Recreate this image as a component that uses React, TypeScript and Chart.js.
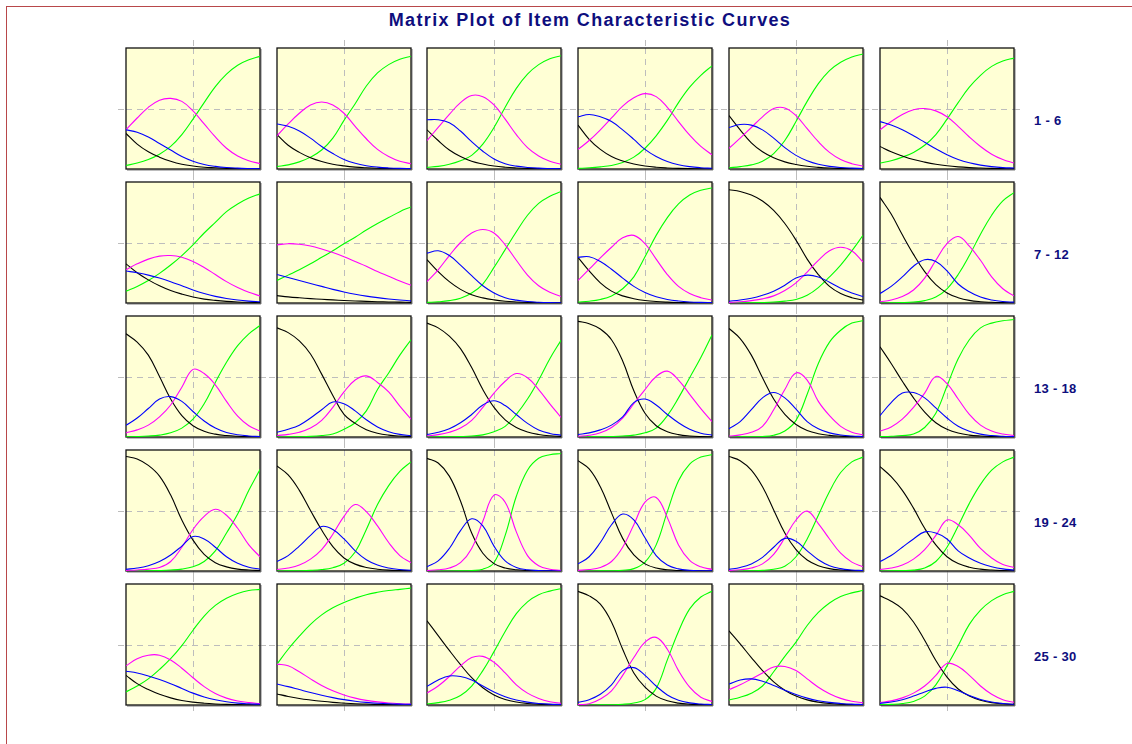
import { useEffect, useRef } from "react";
import { Chart, registerables } from "chart.js";

Chart.register(...registerables);

const TITLE = "Matrix Plot of Item Characteristic Curves";
const ROW_LABELS = ["1 - 6", "7 - 12", "13 - 18", "19 - 24", "25 - 30"];
const THETA = [-3, -2.5, -2, -1.5, -1, -0.5, 0, 0.5, 1, 1.5, 2, 2.5, 3];

// Category 0 (black)
const BLACK_CURVES: number[][] = [
  [0.30, 0.21, 0.145, 0.10, 0.065, 0.04, 0.025, 0.015, 0.01, 0.005, 0.003, 0.002, 0.001],
  [0.29, 0.20, 0.14, 0.095, 0.063, 0.04, 0.026, 0.016, 0.01, 0.006, 0.004, 0.002, 0.001],
  [0.33, 0.24, 0.16, 0.105, 0.065, 0.042, 0.025, 0.015, 0.009, 0.005, 0.003, 0.002, 0.001],
  [0.37, 0.25, 0.165, 0.105, 0.068, 0.042, 0.025, 0.015, 0.009, 0.005, 0.003, 0.002, 0.001],
  [0.45, 0.33, 0.22, 0.145, 0.095, 0.06, 0.038, 0.023, 0.014, 0.008, 0.005, 0.003, 0.002],
  [0.19, 0.145, 0.11, 0.08, 0.058, 0.04, 0.027, 0.018, 0.012, 0.008, 0.005, 0.003, 0.002],
  [0.33, 0.255, 0.195, 0.145, 0.105, 0.075, 0.05, 0.033, 0.022, 0.014, 0.009, 0.006, 0.004],
  [0.062, 0.052, 0.044, 0.037, 0.031, 0.026, 0.021, 0.017, 0.014, 0.011, 0.009, 0.007, 0.005],
  [0.365, 0.265, 0.18, 0.115, 0.07, 0.043, 0.026, 0.015, 0.009, 0.005, 0.003, 0.002, 0.001],
  [0.385, 0.27, 0.17, 0.10, 0.06, 0.036, 0.021, 0.012, 0.007, 0.004, 0.002, 0.001, 0.001],
  [0.955, 0.94, 0.91, 0.86, 0.78, 0.67, 0.53, 0.37, 0.24, 0.14, 0.08, 0.045, 0.025],
  [0.89, 0.75, 0.575, 0.41, 0.265, 0.155, 0.085, 0.045, 0.022, 0.011, 0.006, 0.003, 0.001],
  [0.87, 0.80, 0.69, 0.51, 0.32, 0.18, 0.095, 0.048, 0.024, 0.012, 0.006, 0.003, 0.001],
  [0.92, 0.88, 0.81, 0.70, 0.53, 0.35, 0.19, 0.115, 0.062, 0.032, 0.016, 0.008, 0.004],
  [0.96, 0.92, 0.85, 0.745, 0.585, 0.40, 0.25, 0.145, 0.08, 0.042, 0.021, 0.01, 0.005],
  [0.975, 0.955, 0.91, 0.82, 0.64, 0.39, 0.2, 0.095, 0.045, 0.02, 0.009, 0.004, 0.002],
  [0.915, 0.83, 0.69, 0.50, 0.32, 0.19, 0.105, 0.055, 0.028, 0.014, 0.007, 0.003, 0.002],
  [0.76, 0.62, 0.47, 0.33, 0.21, 0.12, 0.065, 0.033, 0.016, 0.008, 0.004, 0.002, 0.001],
  [0.965, 0.945, 0.89, 0.80, 0.64, 0.43, 0.26, 0.14, 0.07, 0.035, 0.016, 0.008, 0.004],
  [0.885, 0.81, 0.68, 0.51, 0.345, 0.205, 0.11, 0.058, 0.03, 0.015, 0.007, 0.004, 0.002],
  [0.95, 0.91, 0.80, 0.59, 0.32, 0.15, 0.062, 0.025, 0.01, 0.004, 0.002, 0.001, 0],
  [0.93, 0.86, 0.71, 0.49, 0.275, 0.135, 0.06, 0.025, 0.01, 0.004, 0.002, 0.001, 0],
  [0.965, 0.93, 0.85, 0.71, 0.515, 0.32, 0.18, 0.093, 0.045, 0.02, 0.009, 0.004, 0.002],
  [0.88, 0.795, 0.68, 0.53, 0.36, 0.22, 0.12, 0.063, 0.032, 0.016, 0.008, 0.004, 0.002],
  [0.25, 0.18, 0.13, 0.09, 0.06, 0.038, 0.024, 0.015, 0.009, 0.005, 0.003, 0.002, 0.001],
  [0.093, 0.072, 0.055, 0.042, 0.031, 0.022, 0.016, 0.011, 0.008, 0.005, 0.004, 0.003, 0.002],
  [0.71, 0.585, 0.46, 0.34, 0.23, 0.145, 0.085, 0.047, 0.025, 0.013, 0.007, 0.003, 0.002],
  [0.958, 0.92, 0.85, 0.70, 0.47, 0.27, 0.15, 0.075, 0.035, 0.016, 0.007, 0.003, 0.001],
  [0.625, 0.515, 0.4, 0.29, 0.195, 0.125, 0.075, 0.043, 0.024, 0.013, 0.007, 0.004, 0.002],
  [0.92, 0.875, 0.81, 0.7, 0.545, 0.375, 0.235, 0.135, 0.075, 0.04, 0.02, 0.01, 0.005],
];

// Category 1 (blue)
const BLUE_CURVES: number[][] = [
  [0.33, 0.31, 0.27, 0.215, 0.16, 0.105, 0.065, 0.038, 0.022, 0.012, 0.007, 0.004, 0.002],
  [0.38, 0.36, 0.32, 0.26, 0.19, 0.13, 0.08, 0.048, 0.028, 0.016, 0.009, 0.005, 0.003],
  [0.415, 0.415, 0.39, 0.32, 0.23, 0.15, 0.085, 0.045, 0.024, 0.013, 0.007, 0.004, 0.002],
  [0.44, 0.46, 0.44, 0.40, 0.33, 0.25, 0.165, 0.105, 0.063, 0.036, 0.02, 0.011, 0.006],
  [0.35, 0.375, 0.37, 0.33, 0.26, 0.18, 0.115, 0.07, 0.04, 0.022, 0.012, 0.007, 0.004],
  [0.40, 0.37, 0.33, 0.28, 0.225, 0.17, 0.12, 0.08, 0.052, 0.033, 0.02, 0.012, 0.008],
  [0.27, 0.255, 0.235, 0.21, 0.18, 0.145, 0.11, 0.08, 0.056, 0.038, 0.025, 0.016, 0.01],
  [0.24, 0.215, 0.19, 0.165, 0.14, 0.115, 0.093, 0.074, 0.058, 0.045, 0.034, 0.025, 0.018],
  [0.42, 0.44, 0.40, 0.32, 0.23, 0.145, 0.085, 0.045, 0.024, 0.012, 0.006, 0.003, 0.002],
  [0.385, 0.39, 0.35, 0.285, 0.21, 0.14, 0.088, 0.052, 0.03, 0.017, 0.009, 0.005, 0.003],
  [0.015, 0.025, 0.04, 0.065, 0.10, 0.15, 0.21, 0.235, 0.22, 0.175, 0.125, 0.085, 0.055],
  [0.08, 0.14, 0.22, 0.31, 0.365, 0.35, 0.27, 0.16, 0.095, 0.05, 0.026, 0.013, 0.007],
  [0.098, 0.16, 0.24, 0.32, 0.34, 0.30, 0.215, 0.135, 0.075, 0.038, 0.019, 0.009, 0.004],
  [0.04, 0.065, 0.10, 0.16, 0.23, 0.295, 0.28, 0.22, 0.145, 0.085, 0.045, 0.022, 0.011],
  [0.022, 0.04, 0.07, 0.12, 0.19, 0.27, 0.305, 0.265, 0.19, 0.115, 0.06, 0.03, 0.015],
  [0.02, 0.035, 0.06, 0.10, 0.17, 0.29, 0.32, 0.27, 0.19, 0.12, 0.065, 0.032, 0.016],
  [0.07, 0.13, 0.23, 0.33, 0.375, 0.33, 0.235, 0.13, 0.07, 0.035, 0.017, 0.008, 0.004],
  [0.18, 0.29, 0.37, 0.375, 0.33, 0.245, 0.16, 0.09, 0.048, 0.024, 0.012, 0.006, 0.003],
  [0.014, 0.025, 0.045, 0.08, 0.135, 0.21, 0.29, 0.27, 0.2, 0.12, 0.065, 0.032, 0.015],
  [0.08, 0.13, 0.21, 0.30, 0.375, 0.35, 0.27, 0.17, 0.095, 0.05, 0.025, 0.012, 0.006],
  [0.035, 0.085, 0.19, 0.34, 0.44, 0.38, 0.21, 0.085, 0.03, 0.01, 0.004, 0.001, 0],
  [0.06, 0.12, 0.24, 0.39, 0.48, 0.43, 0.28, 0.13, 0.05, 0.018, 0.006, 0.002, 0.001],
  [0.014, 0.03, 0.06, 0.115, 0.2, 0.275, 0.25, 0.17, 0.095, 0.045, 0.02, 0.009, 0.004],
  [0.08, 0.13, 0.2, 0.27, 0.33, 0.32, 0.27, 0.17, 0.11, 0.065, 0.036, 0.018, 0.009],
  [0.285, 0.27, 0.245, 0.215, 0.18, 0.14, 0.1, 0.068, 0.044, 0.027, 0.016, 0.01, 0.006],
  [0.177, 0.155, 0.13, 0.105, 0.082, 0.062, 0.045, 0.032, 0.022, 0.015, 0.01, 0.007, 0.005],
  [0.157, 0.21, 0.245, 0.24, 0.21, 0.16, 0.11, 0.07, 0.042, 0.024, 0.013, 0.007, 0.004],
  [0.022, 0.045, 0.09, 0.17, 0.29, 0.315, 0.25, 0.16, 0.085, 0.04, 0.018, 0.008, 0.004],
  [0.177, 0.21, 0.22, 0.2, 0.165, 0.125, 0.088, 0.058, 0.036, 0.022, 0.013, 0.007, 0.004],
  [0.014, 0.025, 0.045, 0.075, 0.11, 0.14, 0.15, 0.12, 0.08, 0.046, 0.025, 0.013, 0.006],
];

// Category 2 (magenta)
const MAGENTA_CURVES: number[][] = [
  [0.33, 0.43, 0.52, 0.58, 0.595, 0.57, 0.49, 0.38, 0.27, 0.175, 0.11, 0.07, 0.045],
  [0.28, 0.38, 0.47, 0.54, 0.565, 0.54, 0.47, 0.36, 0.255, 0.165, 0.105, 0.065, 0.045],
  [0.24, 0.35, 0.46, 0.56, 0.62, 0.61, 0.54, 0.42, 0.29, 0.18, 0.11, 0.065, 0.04],
  [0.165, 0.24, 0.33, 0.43, 0.53, 0.60, 0.635, 0.61, 0.52, 0.40, 0.285, 0.19, 0.12],
  [0.175, 0.26, 0.35, 0.44, 0.51, 0.515, 0.45, 0.34, 0.23, 0.14, 0.08, 0.045, 0.025],
  [0.33, 0.40, 0.46, 0.50, 0.51, 0.49, 0.44, 0.36, 0.27, 0.19, 0.125, 0.08, 0.05],
  [0.28, 0.33, 0.37, 0.395, 0.40, 0.385, 0.35, 0.30, 0.24, 0.18, 0.13, 0.09, 0.06],
  [0.49, 0.50, 0.495, 0.48, 0.455, 0.425, 0.39, 0.35, 0.31, 0.265, 0.225, 0.185, 0.15],
  [0.18, 0.28, 0.40, 0.51, 0.59, 0.62, 0.59, 0.49, 0.36, 0.235, 0.145, 0.09, 0.055],
  [0.19, 0.285, 0.38, 0.47, 0.55, 0.57, 0.50, 0.37, 0.24, 0.14, 0.08, 0.045, 0.025],
  [0.005, 0.01, 0.02, 0.035, 0.06, 0.105, 0.17, 0.26, 0.36, 0.44, 0.47, 0.44, 0.345],
  [0.01, 0.025, 0.055, 0.11, 0.21, 0.36, 0.50, 0.56, 0.48, 0.36, 0.22, 0.12, 0.06],
  [0.035, 0.06, 0.10, 0.17, 0.27, 0.42, 0.57, 0.535, 0.44, 0.30, 0.175, 0.095, 0.05],
  [0.013, 0.022, 0.04, 0.075, 0.14, 0.25, 0.38, 0.48, 0.515, 0.46, 0.38, 0.26, 0.15],
  [0.01, 0.02, 0.04, 0.075, 0.14, 0.25, 0.37, 0.47, 0.535, 0.50, 0.40, 0.28, 0.165],
  [0.006, 0.015, 0.035, 0.08, 0.16, 0.28, 0.40, 0.51, 0.555, 0.48, 0.36, 0.24, 0.13],
  [0.008, 0.018, 0.04, 0.09, 0.23, 0.40, 0.54, 0.48, 0.30, 0.18, 0.09, 0.04, 0.018],
  [0.05, 0.085, 0.15, 0.25, 0.37, 0.51, 0.45, 0.32, 0.19, 0.10, 0.05, 0.025, 0.012],
  [0.005, 0.009, 0.016, 0.03, 0.08, 0.2, 0.35, 0.46, 0.52, 0.47, 0.36, 0.22, 0.12],
  [0.012, 0.025, 0.05, 0.10, 0.18, 0.31, 0.46, 0.56, 0.50, 0.38, 0.24, 0.13, 0.07],
  [0.004, 0.01, 0.025, 0.07, 0.19, 0.42, 0.64, 0.58, 0.33, 0.13, 0.045, 0.015, 0.005],
  [0.005, 0.012, 0.03, 0.08, 0.2, 0.39, 0.58, 0.62, 0.45, 0.22, 0.09, 0.035, 0.014],
  [0.004, 0.01, 0.025, 0.06, 0.14, 0.28, 0.43, 0.505, 0.40, 0.27, 0.15, 0.075, 0.035],
  [0.012, 0.025, 0.05, 0.1, 0.18, 0.3, 0.43, 0.39, 0.3, 0.19, 0.11, 0.055, 0.03],
  [0.33, 0.39, 0.42, 0.42, 0.38, 0.31, 0.23, 0.155, 0.097, 0.058, 0.034, 0.02, 0.012],
  [0.345, 0.33, 0.28, 0.22, 0.165, 0.12, 0.085, 0.058, 0.039, 0.026, 0.017, 0.011, 0.007],
  [0.1, 0.16, 0.24, 0.33, 0.4, 0.41, 0.36, 0.27, 0.17, 0.1, 0.055, 0.028, 0.014],
  [0.004, 0.01, 0.05, 0.12, 0.25, 0.40, 0.53, 0.57, 0.47, 0.29, 0.15, 0.065, 0.03],
  [0.13, 0.17, 0.22, 0.27, 0.32, 0.325, 0.29, 0.22, 0.15, 0.095, 0.056, 0.032, 0.018],
  [0.02, 0.035, 0.06, 0.1, 0.16, 0.25, 0.35, 0.325, 0.25, 0.16, 0.09, 0.045, 0.022],
];

// Category 3 (green)
const GREEN_CURVES: number[][] = [
  [0.03, 0.05, 0.08, 0.125, 0.19, 0.29, 0.42, 0.56, 0.695, 0.80, 0.875, 0.92, 0.95],
  [0.02, 0.035, 0.06, 0.10, 0.16, 0.26, 0.41, 0.55, 0.70, 0.81, 0.88, 0.925, 0.95],
  [0.014, 0.022, 0.04, 0.07, 0.115, 0.21, 0.35, 0.52, 0.68, 0.80, 0.88, 0.93, 0.955],
  [0.005, 0.01, 0.018, 0.03, 0.055, 0.10, 0.175, 0.28, 0.41, 0.56, 0.69, 0.79, 0.87],
  [0.01, 0.02, 0.035, 0.065, 0.13, 0.24, 0.40, 0.57, 0.72, 0.83, 0.90, 0.945, 0.97],
  [0.05, 0.07, 0.10, 0.14, 0.20, 0.29, 0.42, 0.56, 0.69, 0.79, 0.865, 0.91, 0.935],
  [0.10, 0.14, 0.19, 0.25, 0.32, 0.40, 0.49, 0.59, 0.68, 0.77, 0.835, 0.885, 0.92],
  [0.19, 0.235, 0.28, 0.33, 0.385, 0.44, 0.50, 0.555, 0.615, 0.67, 0.72, 0.77, 0.81],
  [0.005, 0.01, 0.02, 0.04, 0.085, 0.16, 0.30, 0.45, 0.60, 0.74, 0.84, 0.90, 0.94],
  [0.008, 0.015, 0.03, 0.06, 0.12, 0.22, 0.39, 0.57, 0.72, 0.835, 0.91, 0.95, 0.97],
  [0, 0.001, 0.002, 0.004, 0.008, 0.016, 0.03, 0.065, 0.13, 0.22, 0.32, 0.44, 0.57],
  [0, 0.001, 0.003, 0.008, 0.02, 0.05, 0.12, 0.24, 0.40, 0.58, 0.74, 0.86, 0.93],
  [0.002, 0.004, 0.008, 0.016, 0.035, 0.075, 0.15, 0.28, 0.46, 0.63, 0.77, 0.87, 0.94],
  [0, 0.001, 0.002, 0.005, 0.012, 0.025, 0.065, 0.12, 0.22, 0.40, 0.54, 0.69, 0.82],
  [0, 0.001, 0.002, 0.004, 0.008, 0.018, 0.045, 0.09, 0.19, 0.32, 0.48, 0.66, 0.815],
  [0, 0.001, 0.002, 0.004, 0.008, 0.016, 0.035, 0.075, 0.18, 0.33, 0.50, 0.67, 0.86],
  [0, 0.001, 0.002, 0.004, 0.015, 0.05, 0.14, 0.36, 0.62, 0.80, 0.90, 0.96, 0.98],
  [0.003, 0.006, 0.012, 0.025, 0.08, 0.2, 0.43, 0.66, 0.82, 0.92, 0.96, 0.98, 0.99],
  [0, 0.001, 0.002, 0.004, 0.008, 0.016, 0.035, 0.08, 0.17, 0.32, 0.48, 0.68, 0.855],
  [0, 0.001, 0.002, 0.005, 0.012, 0.028, 0.065, 0.16, 0.35, 0.56, 0.72, 0.84, 0.92],
  [0, 0, 0, 0.001, 0.004, 0.015, 0.07, 0.30, 0.63, 0.85, 0.95, 0.98, 0.99],
  [0, 0, 0.001, 0.002, 0.006, 0.02, 0.075, 0.22, 0.5, 0.76, 0.9, 0.96, 0.98],
  [0, 0.001, 0.002, 0.005, 0.015, 0.04, 0.12, 0.27, 0.47, 0.67, 0.83, 0.92, 0.96],
  [0, 0.001, 0.003, 0.007, 0.025, 0.08, 0.2, 0.38, 0.57, 0.73, 0.85, 0.92, 0.96],
  [0.11, 0.16, 0.22, 0.3, 0.39, 0.5, 0.63, 0.75, 0.84, 0.9, 0.94, 0.965, 0.975],
  [0.345, 0.47, 0.58, 0.68, 0.76, 0.82, 0.865, 0.9, 0.93, 0.95, 0.965, 0.975, 0.985],
  [0.01, 0.02, 0.04, 0.08, 0.16, 0.29, 0.45, 0.62, 0.77, 0.87, 0.93, 0.96, 0.98],
  [0, 0, 0.001, 0.002, 0.006, 0.017, 0.045, 0.14, 0.38, 0.62, 0.81, 0.91, 0.958],
  [0.042, 0.065, 0.1, 0.16, 0.28, 0.41, 0.53, 0.67, 0.78, 0.86, 0.915, 0.945, 0.965],
  [0.002, 0.005, 0.012, 0.03, 0.075, 0.17, 0.33, 0.5, 0.68, 0.8, 0.88, 0.93, 0.958],
];

const COL_LEFT = [126, 277, 427, 578, 729, 880];
const ROW_TOP = [48, 182, 316, 450, 584];
const PLOT_W = 134;
const PLOT_H = 121;
const PAD = 8;

const panelPlugin = {
  id: "panelBox",
  beforeDraw(chart: any) {
    const { ctx, chartArea: a } = chart;
    ctx.save();
    ctx.fillStyle = "#FFFFD5";
    ctx.fillRect(a.left, a.top, a.right - a.left, a.bottom - a.top);
    ctx.restore();
  },
  beforeDatasetsDraw(chart: any) {
    const { ctx, chartArea: a } = chart;
    ctx.save();
    ctx.setLineDash([]);
    ctx.strokeStyle = "#7a7a7a";
    ctx.lineWidth = 1;
    ctx.beginPath();
    ctx.moveTo(a.right + 1, a.top + 1);
    ctx.lineTo(a.right + 1, a.bottom + 1);
    ctx.lineTo(a.left + 1, a.bottom + 1);
    ctx.stroke();
    ctx.strokeStyle = "#111111";
    ctx.lineWidth = 1.3;
    ctx.strokeRect(a.left, a.top, a.right - a.left, a.bottom - a.top);
    ctx.restore();
  },
};

function gridScale(position: string, min: number, max: number, center: number, onArea: boolean) {
  return {
    type: "linear",
    position,
    min,
    max,
    ticks: { display: false },
    afterBuildTicks: (s: any) => {
      s.ticks = [{ value: center }];
    },
    grid: {
      display: true,
      drawOnChartArea: onArea,
      drawTicks: true,
      tickLength: PAD,
      color: "#BDBDBD",
      lineWidth: 1,
      tickBorderDash: [6, 5],
    },
    border: { display: false, dash: [6, 5] },
  };
}

function Panel({ idx, left, top }: { idx: number; left: number; top: number }) {
  const ref = useRef<HTMLCanvasElement | null>(null);
  useEffect(() => {
    const mk = (vals: number[]) => THETA.map((t, i) => ({ x: t, y: vals[i] }));
    const line = (vals: number[], color: string) => ({
      data: mk(vals),
      borderColor: color,
      backgroundColor: color,
      borderWidth: 1.1,
      pointRadius: 0,
      fill: false,
      tension: 0.4,
      xAxisID: "x",
      yAxisID: "y",
    });
    const chart = new Chart(ref.current as HTMLCanvasElement, {
      type: "line",
      data: {
        datasets: [
          line(BLUE_CURVES[idx], "#0000FF"),
          line(MAGENTA_CURVES[idx], "#FF00FF"),
          line(BLACK_CURVES[idx], "#000000"),
          line(GREEN_CURVES[idx], "#00FF00"),
        ] as any,
      },
      options: {
        responsive: false,
        maintainAspectRatio: false,
        devicePixelRatio: 1,
        animation: false,
        events: [],
        layout: { padding: 0 },
        plugins: { legend: { display: false }, tooltip: { enabled: false }, title: { display: false } },
        scales: {
          x: gridScale("bottom", -3, 3, 0, true),
          x2: gridScale("top", -3, 3, 0, false),
          y: gridScale("left", 0, 1.02, 0.5, true),
          y2: gridScale("right", 0, 1.02, 0.5, false),
        } as any,
      },
      plugins: [panelPlugin],
    });
    return () => chart.destroy();
  }, [idx]);
  const w = PLOT_W + 2 * PAD;
  const h = PLOT_H + 2 * PAD;
  return (
    <canvas
      ref={ref}
      width={w}
      height={h}
      style={{ position: "absolute", left: left - PAD, top: top - PAD, width: w, height: h }}
    />
  );
}

export default function App() {
  const panels = [];
  for (let r = 0; r < ROW_TOP.length; r++) {
    for (let c = 0; c < COL_LEFT.length; c++) {
      const idx = r * COL_LEFT.length + c;
      panels.push(<Panel key={idx} idx={idx} left={COL_LEFT[c]} top={ROW_TOP[r]} />);
    }
  }
  return (
    <div
      style={{
        position: "fixed",
        left: 0,
        top: 0,
        width: 1132,
        height: 744,
        background: "#ffffff",
        overflow: "hidden",
        fontFamily: "'Liberation Sans', Arial, sans-serif",
      }}
    >
      <div
        style={{
          position: "absolute",
          left: 6,
          top: 6,
          right: 0,
          bottom: 0,
          borderTop: "1px solid #B8474A",
          borderLeft: "1px solid #B8474A",
        }}
      />
      <div
        style={{
          position: "absolute",
          left: 590,
          top: 10,
          transform: "translateX(-50%)",
          whiteSpace: "nowrap",
          fontSize: 18,
          lineHeight: "20px",
          fontWeight: "bold",
          color: "#0E0E7E",
          letterSpacing: "1.35px",
        }}
      >
        {TITLE}
      </div>
      {panels}
      {ROW_LABELS.map((lab, r) => (
        <div
          key={lab}
          style={{
            position: "absolute",
            left: 1034,
            top: ROW_TOP[r] + 65,
            whiteSpace: "nowrap",
            fontSize: 13,
            lineHeight: "15px",
            fontWeight: "bold",
            color: "#0E0E7E",
            letterSpacing: "0.3px",
          }}
        >
          {lab}
        </div>
      ))}
    </div>
  );
}
